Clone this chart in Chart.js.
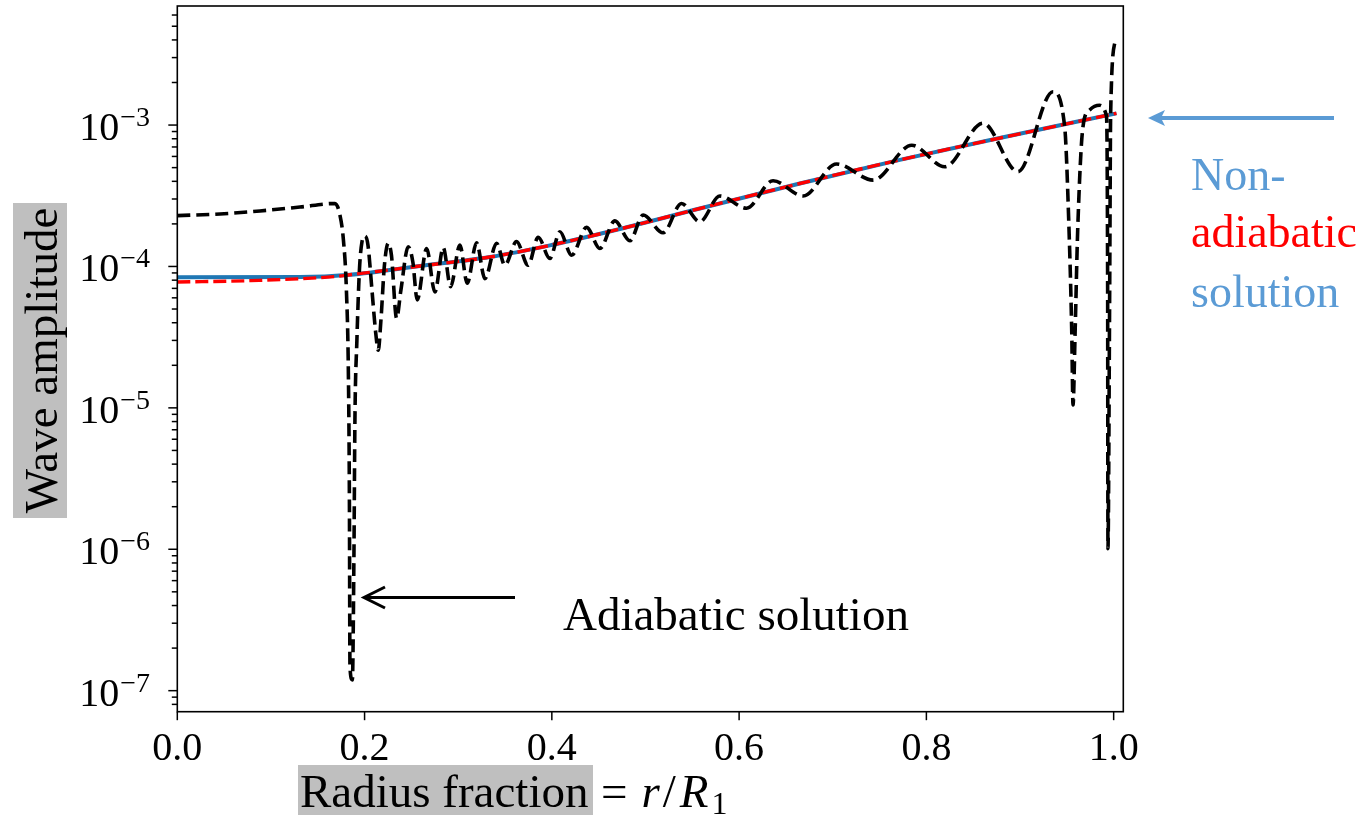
<!DOCTYPE html>
<html>
<head>
<meta charset="utf-8">
<script src="https://cdn.jsdelivr.net/npm/chart.js@4.4.1/dist/chart.umd.min.js"></script>
<style>
  html, body { margin: 0; padding: 0; background: #fff; }
</style>
</head>
<body>
<canvas id="chart" width="1367" height="815"></canvas>
<script>
// Adiabatic solution (black dashed)
const adiabaticR = [
  0, 0.0456, 0.0883, 0.131, 0.1684, 0.1737, 0.1774, 0.1806, 0.1828, 0.1838,
  0.1844, 0.187, 0.1886, 0.1897, 0.1918, 0.1945, 0.1972, 0.2004, 0.2036, 0.2079,
  0.2116, 0.2146, 0.2175, 0.2212, 0.2253, 0.2287, 0.2342, 0.2388, 0.2466, 0.2516,
  0.2562, 0.2663, 0.2751, 0.284, 0.2919, 0.3018, 0.3096, 0.3196, 0.3285, 0.341,
  0.3498, 0.3623, 0.3747, 0.3854, 0.3979, 0.4086, 0.4211, 0.4371, 0.4513, 0.4673,
  0.4833, 0.4975, 0.5188, 0.5385, 0.558, 0.5794, 0.6079, 0.6363, 0.6683, 0.704,
  0.7431, 0.7844, 0.8196, 0.8605, 0.8978, 0.9352, 0.9477, 0.952, 0.9552, 0.9566,
  0.9589, 0.9616, 0.9672, 0.9744, 0.985, 0.9922, 0.9936, 0.9939, 0.9957, 0.9968,
  1.002
];
const adiabaticAmp = [
  2.29e-4, 2.35e-4, 2.47e-4, 2.63e-4, 2.79e-4, 2.31e-4, 1.54e-4, 6.8e-5, 1.57e-5, 2.2e-6,
  1.47e-7, 1.19e-7, 8.4e-7, 8.2e-6, 3.0e-5, 9.4e-5, 1.49e-4, 1.64e-4, 1.42e-4, 6.8e-5,
  3.55e-5, 2.56e-5, 4.2e-5, 1.02e-4, 1.46e-4, 1.2e-4, 4.3e-5, 6.8e-5, 1.38e-4, 1.07e-4,
  5.8e-5, 1.34e-4, 6.6e-5, 1.36e-4, 7.2e-5, 1.42e-4, 7.6e-5, 1.47e-4, 8.2e-5, 1.46e-4,
  1.02e-4, 1.5e-4, 1.02e-4, 1.61e-4, 1.14e-4, 1.76e-4, 1.2e-4, 1.89e-4, 1.34e-4, 2.1e-4,
  1.52e-4, 2.31e-4, 1.73e-4, 2.79e-4, 2.07e-4, 3.15e-4, 2.58e-4, 4.04e-4, 3.15e-4, 5.3e-4,
  4.08e-4, 7.2e-4, 5.07e-4, 1.03e-3, 4.68e-4, 1.72e-3, 9.7e-4, 2.13e-4, 3.55e-5, 1.05e-5,
  3.55e-5, 1.81e-4, 9.7e-4, 1.28e-3, 1.38e-3, 1.17e-3, 5.8e-5, 1.01e-6, 5.8e-5, 1.22e-3,
  4.06e-3
];

// Non-adiabatic solution (blue solid)
const blueR = [0, 0.1309, 0.1844, 0.2591, 0.3339, 0.3979, 0.4726, 0.558, 0.6648, 0.7716, 0.8783, 1.003];
const blueAmp = [8.38e-5, 8.41e-5, 8.73e-5, 1.007e-4, 1.166e-4, 1.41e-4, 1.84e-4, 2.57e-4, 3.86e-4, 5.67e-4, 8.09e-4, 1.21e-3];

// Non-adiabatic solution (red dashed)
const redR = [0, 0.0783, 0.17, 0.1844, 0.2591, 0.3339, 0.3979, 0.4726, 0.558, 0.6648, 0.7716, 0.8783, 1.003];
const redAmp = [7.76e-5, 7.94e-5, 8.5e-5, 8.73e-5, 1.007e-4, 1.166e-4, 1.41e-4, 1.84e-4, 2.57e-4, 3.86e-4, 5.67e-4, 8.09e-4, 1.21e-3];

// axis ticks
const xTicks = [0, 0.2, 0.4, 0.6, 0.8, 1.0];
const yMajorExp = [-7, -6, -5, -4, -3];
const yMinorMult = [2, 3, 4, 5, 6, 7, 8, 9];

const SERIF = '"Liberation Serif", "Times New Roman", serif';

const toPoints = (xs, ys) => xs.map((v, i) => ({ x: v, y: ys[i] }));

// ticks, labels, frame and annotations
const decorations = {
  id: 'decorations',
  afterDraw(chart) {
    const { ctx, chartArea: a, scales: { x, y } } = chart;
    const line = (x1, y1, x2, y2) => {
      ctx.beginPath(); ctx.moveTo(x1, y1); ctx.lineTo(x2, y2); ctx.stroke();
    };
    ctx.save();
    ctx.strokeStyle = '#000';
    ctx.fillStyle = '#000';

    // frame
    ctx.lineWidth = 1.6;
    ctx.strokeRect(a.left, a.top, a.right - a.left, a.bottom - a.top);

    // x ticks
    ctx.lineWidth = 1.5;
    ctx.font = '40px ' + SERIF;
    ctx.textAlign = 'center';
    ctx.textBaseline = 'alphabetic';
    xTicks.forEach(v => {
      const px = x.getPixelForValue(v);
      line(px, a.bottom, px, a.bottom + 8.5);
      ctx.fillText(v.toFixed(1), px, a.bottom + 48);
    });

    // y minor ticks
    for (let e = -8; e <= -2; e++) {
      yMinorMult.forEach(m => {
        const v = m * Math.pow(10, e);
        if (v < y.min || v > y.max) return;
        const py = y.getPixelForValue(v);
        line(a.left - 5.5, py, a.left, py);
      });
    }
    // y major ticks + labels
    yMajorExp.forEach(e => {
      const py = y.getPixelForValue(Math.pow(10, e));
      line(a.left - 9, py, a.left, py);
      ctx.font = '40px ' + SERIF;
      ctx.textAlign = 'right';
      ctx.fillText('10', a.left - 58, py + 15);
      ctx.font = '28px ' + SERIF;
      ctx.textAlign = 'left';
      ctx.fillText('\u2212' + Math.abs(e), a.left - 57, py + 1);
    });

    // y label
    ctx.fillStyle = '#bfbfbf';
    ctx.fillRect(13, 203, 54, 315);
    ctx.save();
    ctx.translate(57, 360.5);
    ctx.rotate(-Math.PI / 2);
    ctx.fillStyle = '#000';
    ctx.font = '47px ' + SERIF;
    ctx.textAlign = 'center';
    ctx.fillText('Wave amplitude', 0, 0);
    ctx.restore();

    // x label
    ctx.fillStyle = '#bfbfbf';
    ctx.fillRect(298, 765, 295, 50);
    ctx.fillStyle = '#000';
    ctx.textAlign = 'left';
    ctx.font = '47px ' + SERIF;
    ctx.fillText('Radius fraction', 300, 807);
    let cx = 601;
    ctx.fillText('=', cx, 807);
    cx += ctx.measureText('=').width + 14;
    ctx.font = 'italic 47px ' + SERIF;
    ctx.fillText('r', cx, 807);
    cx += ctx.measureText('r').width + 3;
    ctx.font = '47px ' + SERIF;
    ctx.fillText('/', cx, 807);
    cx += ctx.measureText('/').width + 4;
    ctx.font = 'italic 47px ' + SERIF;
    ctx.fillText('R', cx, 807);
    cx += ctx.measureText('R').width + 3;
    ctx.font = '32px ' + SERIF;
    ctx.fillText('1', cx, 814);

    // "Adiabatic solution" arrow
    ctx.strokeStyle = '#000';
    ctx.lineWidth = 3;
    line(515, 597.5, 365, 597.5);
    ctx.beginPath();
    ctx.moveTo(385, 587);
    ctx.lineTo(364, 597.5);
    ctx.lineTo(385, 608);
    ctx.stroke();
    ctx.font = '47px ' + SERIF;
    ctx.fillStyle = '#000';
    ctx.fillText('Adiabatic solution', 563, 630);

    // "Non-adiabatic solution" arrow
    ctx.strokeStyle = '#5b9bd5';
    ctx.fillStyle = '#5b9bd5';
    ctx.lineWidth = 4;
    line(1334, 118, 1160, 118);
    ctx.beginPath();
    ctx.moveTo(1148, 118);
    ctx.lineTo(1165, 110);
    ctx.lineTo(1161, 118);
    ctx.lineTo(1165, 126);
    ctx.closePath();
    ctx.fill();
    ctx.font = '46px ' + SERIF;
    ctx.fillText('Non-', 1191, 190);
    ctx.fillStyle = '#ff0000';
    ctx.fillText('adiabatic', 1191, 247);
    ctx.fillStyle = '#5b9bd5';
    ctx.fillText('solution', 1191, 307);

    ctx.restore();
  }
};

new Chart(document.getElementById('chart'), {
  type: 'line',
  data: {
    datasets: [
      {
        label: 'Adiabatic solution',
        data: toPoints(adiabaticR, adiabaticAmp),
        borderColor: '#000',
        borderWidth: 3.6,
        borderDash: [13, 6],
        pointRadius: 0,
        cubicInterpolationMode: 'monotone',
        order: 1
      },
      {
        label: 'Non-adiabatic (red)',
        data: toPoints(redR, redAmp),
        borderColor: '#ff0000',
        borderWidth: 3.4,
        borderDash: [13, 5],
        pointRadius: 0,
        cubicInterpolationMode: 'monotone',
        order: 2
      },
      {
        label: 'Non-adiabatic solution',
        data: toPoints(blueR, blueAmp),
        borderColor: '#1f77b4',
        borderWidth: 4,
        pointRadius: 0,
        cubicInterpolationMode: 'monotone',
        order: 3
      }
    ]
  },
  options: {
    responsive: false,
    animation: false,
    devicePixelRatio: 1,
    layout: { padding: { left: 177.3, right: 243.7, top: 6, bottom: 103.3 } },
    plugins: { legend: { display: false }, tooltip: { enabled: false } },
    scales: {
      x: { type: 'linear', min: 0, max: 1.0103, display: false },
      y: { type: 'logarithmic', min: 7.1e-8, max: 6.95e-3, display: false }
    }
  },
  plugins: [decorations]
});
</script>
</body>
</html>
